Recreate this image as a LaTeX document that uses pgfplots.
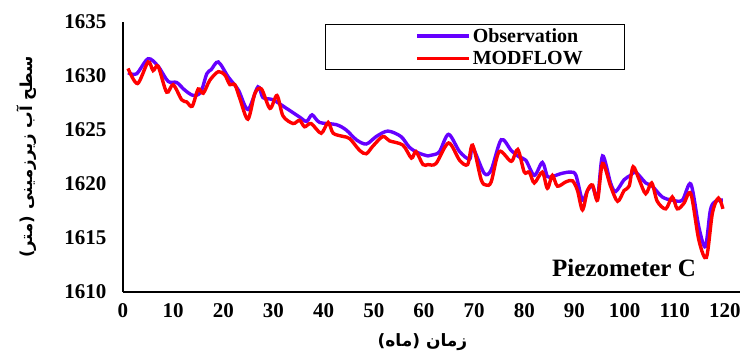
\documentclass[border=0pt]{standalone}
\usepackage{pgfplots}
\pgfplotsset{compat=1.18}
\usepackage{fontspec}
\setmainfont{Liberation Serif}
\newfontfamily\arabicfont[Script=Arabic]{DejaVu Sans}
\TeXXeTstate=1
\definecolor{obs}{RGB}{102,0,255}
\definecolor{mod}{RGB}{255,0,0}
\begin{document}
\begin{tikzpicture}
\begin{axis}[
  at={(0,0)}, anchor=south west,
  width=617pt, height=270pt, scale only axis,
  xmin=0, xmax=123, ymin=1610, ymax=1635,
  axis x line=bottom, axis y line=left,
  axis line style={-, line width=1.2pt, black},
  xtick={0,10,...,120}, ytick={1610,1615,...,1635},
  major tick length=0pt,
  /pgf/number format/assume math mode=true,
  /pgf/number format/set thousands separator={},
  tick label style={font=\fontsize{21}{24}\selectfont\bfseries},
  yticklabel style={xshift=-13pt},
  xticklabel style={yshift=-8pt},
  xlabel={\arabicfont\bfseries\beginR زمان (ماه)\endR},
  ylabel={\arabicfont\bfseries\beginR سطح آب زیرزمینی (متر)\endR},
  xlabel style={font=\fontsize{17}{20}\selectfont, yshift=-9pt, xshift=-9pt},
  ylabel style={font=\fontsize{16.5}{19}\selectfont, yshift=21pt},
  legend style={at={(rel axis cs:0.327,0.993)}, anchor=north west,
    draw=black, line width=1.2pt, font=\fontsize{20}{22}\selectfont\bfseries,
    row sep=3pt, inner sep=2pt},
  legend cell align=left,
  legend image code/.code={\path (-88pt,0pt); \draw[#1] (0pt,0pt) -- (52pt,0pt);},
  clip=false,
]
\addplot[obs, line width=3.4pt, smooth, tension=0.5] coordinates {
(1,1630.3) (2.7,1630.2) (5,1631.6) (7,1630.9) (9,1629.5) (10.7,1629.4) (12.3,1628.7) (14,1628.2)
(15.5,1628.5) (16.7,1630.2) (17.6,1630.6) (19,1631.3) (21,1629.9) (23,1628.7) (24.9,1626.9)
(26.9,1629.0) (27.9,1628.0) (29.9,1627.8) (32.6,1627.0) (35.2,1626.2) (36.6,1625.8) (37.7,1626.4)
(39.2,1625.7) (42.5,1625.5) (44.5,1625.0) (46.5,1624.1) (48.5,1623.7) (50.5,1624.4) (52.8,1624.9)
(55.4,1624.4) (57.1,1623.4) (58.8,1622.9) (60.8,1622.6) (61.8,1622.7) (63.1,1623.0) (64.9,1624.6)
(67.1,1623.0) (69.1,1622.3) (69.7,1623.4) (72,1621.0) (73.4,1621.3) (75.4,1624.1) (77.4,1623.1)
(79,1622.5) (80.3,1622.2) (82,1620.8) (83.6,1622.0) (84.6,1620.7) (85.6,1620.7) (87.6,1621.0)
(89.3,1621.1) (90.3,1620.8) (91.6,1618.5) (92.6,1619.4) (93.6,1619.8) (94.6,1618.7) (95.6,1622.6)
(97.2,1620.1) (98.2,1619.3) (99.9,1620.4) (101.2,1620.8) (102.2,1621.1) (104.2,1620.1) (105.5,1619.8)
(107.5,1618.8) (109.5,1618.5) (111.5,1618.5) (113.2,1620.0) (114.8,1616.0) (116.1,1614.2)
(117.1,1617.6) (118.1,1618.4) (119.6,1618.5)
};
\addlegendentry{\makebox[148pt][l]{Observation}}
\addplot[mod, line width=3.4pt, smooth, tension=0.5] coordinates {
(1,1630.7) (2.9,1629.3) (5,1631.3) (6,1630.5) (7,1630.9) (8.7,1628.5) (10,1629.2) (11.7,1627.8)
(12.7,1627.6) (13.8,1627.2) (15,1628.8) (16,1628.4) (17.3,1629.6) (19,1630.4) (20.3,1630.1)
(21.3,1629.2) (22.3,1629.2) (23.3,1627.9) (24.9,1626.0) (26.3,1628.4) (27.6,1628.8) (29.3,1627.0)
(30.7,1628.2) (31.9,1626.3) (33.9,1625.6) (35.2,1625.9) (36.2,1625.3) (37.5,1625.6) (39.5,1624.7)
(40.9,1625.7) (41.9,1624.7) (43.9,1624.4) (45.2,1624.2) (47.2,1623.1) (48.5,1622.8) (49.8,1623.5)
(51.8,1624.4) (53.1,1624.0) (55.8,1623.6) (57.5,1622.4) (58.4,1623.0) (59.8,1621.8) (60.8,1621.8)
(62.4,1621.9) (64.9,1623.8) (67.1,1622.2) (68.7,1621.8) (69.7,1623.6) (71.4,1620.4) (72.4,1619.9)
(73.4,1620.2) (75,1623.0) (77.4,1622.1) (78.7,1623.2) (80,1621.1) (81,1621.1) (82,1620.1)
(83.6,1621.1) (84.6,1619.6) (85.6,1620.8) (86.6,1619.8) (88.3,1620.2) (89.6,1620.3) (90.6,1619.4)
(91.6,1617.6) (92.6,1619.4) (93.6,1619.9) (94.6,1618.5) (95.6,1621.9) (97.2,1619.8) (98.6,1618.4)
(99.9,1619.4) (100.9,1619.8) (101.7,1621.6) (102.9,1620.4) (104.2,1619.1) (105.4,1620.1)
(106.5,1618.4) (108.2,1617.7) (109.5,1618.8) (110.5,1617.7) (111.8,1618.2) (113.2,1619.1)
(114.8,1614.8) (116.3,1613.2) (117.5,1617.3) (118.7,1618.7) (119.6,1617.7)
};
\addlegendentry{\makebox[148pt][l]{MODFLOW}}
\node[font=\fontsize{25}{30}\selectfont\bfseries] at (rel axis cs:0.812,0.089) {Piezometer C};
\end{axis}
\pgfresetboundingbox
\path (-123pt,-67pt) rectangle (619pt,292pt);
\end{tikzpicture}
\end{document}
